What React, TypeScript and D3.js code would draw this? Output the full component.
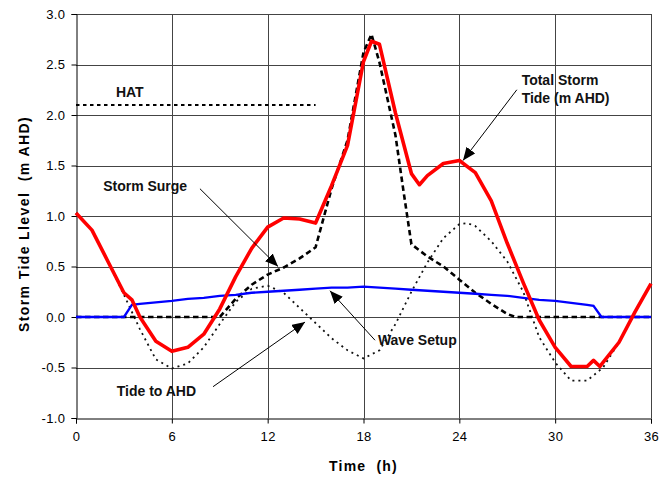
import React, { useEffect, useRef } from 'react'
import * as d3 from 'd3'

// Total storm tide (red)
const TOTAL_HOURS = [0, 1, 2, 3, 3.5, 4, 5, 6, 7, 8, 9, 10, 11, 12, 13, 14, 15, 16, 17, 18, 18.5, 19, 20, 21, 21.5, 22, 23, 24, 25, 26, 27, 28, 29, 30, 31, 32, 32.4, 32.8, 34, 35, 36]
const TOTAL_VALUES = [1.03, 0.86, 0.55, 0.24, 0.17, 0.0, -0.24, -0.34, -0.3, -0.17, 0.08, 0.4, 0.68, 0.89, 0.98, 0.97, 0.93, 1.3, 1.7, 2.53, 2.73, 2.7, 2.02, 1.42, 1.31, 1.4, 1.52, 1.55, 1.43, 1.15, 0.73, 0.34, -0.03, -0.3, -0.49, -0.49, -0.43, -0.49, -0.25, 0.05, 0.33]

// Storm surge (black dashed)
const SURGE_HOURS = [0, 9, 10, 11, 12, 13, 14, 15, 16, 17, 18, 18.5, 19, 20, 20.5, 21, 22, 23, 24, 25, 26, 27, 27.5, 36]
const SURGE_VALUES = [0, 0, 0.18, 0.32, 0.42, 0.49, 0.58, 0.69, 1.27, 1.75, 2.62, 2.8, 2.52, 1.8, 1.25, 0.72, 0.6, 0.5, 0.37, 0.24, 0.13, 0.03, 0, 0]

// Tide to AHD (black dotted)
const TIDE_HOURS = [0, 1, 2, 3, 4, 5, 6, 7, 8, 9, 10, 11, 12, 13, 14, 15, 16, 17, 18, 19, 20, 21, 22, 23, 24, 24.5, 25, 26, 27, 28, 29, 30, 31, 32, 33, 34, 35, 36]
const TIDE_VALUES = [1.03, 0.86, 0.55, 0.22, -0.12, -0.42, -0.51, -0.46, -0.3, -0.07, 0.15, 0.28, 0.31, 0.24, 0.09, -0.06, -0.21, -0.33, -0.41, -0.33, -0.07, 0.25, 0.54, 0.78, 0.92, 0.93, 0.9, 0.75, 0.55, 0.25, -0.2, -0.45, -0.63, -0.63, -0.5, -0.25, 0.05, 0.33]

// Wave setup (blue)
const SETUP_HOURS = [0, 3, 3.5, 4, 5, 6, 7, 8, 9, 10, 11, 12, 13, 14, 15, 16, 17, 18, 19, 20, 21, 22, 23, 24, 25, 26, 27, 28, 29, 30, 31, 32, 32.4, 32.9, 36]
const SETUP_VALUES = [0, 0, 0.12, 0.13, 0.145, 0.16, 0.18, 0.19, 0.21, 0.22, 0.24, 0.25, 0.26, 0.27, 0.28, 0.29, 0.29, 0.3, 0.29, 0.28, 0.27, 0.26, 0.25, 0.24, 0.23, 0.22, 0.21, 0.19, 0.17, 0.16, 0.14, 0.12, 0.11, 0, 0]

const HAT_LEVEL = 2.1
const HAT_RANGE = [0, 15]

const X_TICKS = [0, 6, 12, 18, 24, 30, 36]
const Y_TICKS = [-1, -0.5, 0, 0.5, 1, 1.5, 2, 2.5, 3]

// labels: [text, hour, level]
const LABELS: [string, number, number][] = [
  ['HAT', 2.5, 2.18],
  ['Storm Surge', 1.7, 1.25],
  ['Total Storm', 27.9, 2.3],
  ['Tide (m AHD)', 27.9, 2.12],
  ['Wave Setup', 18.9, -0.28],
  ['Tide to AHD', 2.55, -0.78],
]

// arrows: [fromHour, fromLevel, toHour, toLevel]
const ARROWS: [number, number, number, number][] = [
  [7.76, 1.27, 12.65, 0.5],
  [27.6, 2.25, 24.23, 1.55],
  [18.72, -0.23, 15.9, 0.26],
  [8.58, -0.69, 14.34, -0.05],
]

const FONT = '"Liberation Sans", Arial, Helvetica, sans-serif'

export default function App() {
  const svgRef = useRef<SVGSVGElement>(null)

  useEffect(() => {
    const width = 669
    const height = 477
    const margin = { top: 14, right: 18, bottom: 59, left: 76 }

    const svg = d3.select(svgRef.current)
    svg.selectAll('*').remove()
    svg.attr('width', width).attr('height', height).attr('viewBox', `0 0 ${width} ${height}`)

    const x = d3.scaleLinear().domain([0, 36]).range([margin.left, width - margin.right])
    const y = d3.scaleLinear().domain([-1, 3]).range([height - margin.bottom, margin.top])

    svg.append('defs').append('marker')
      .attr('id', 'arrowhead')
      .attr('markerUnits', 'userSpaceOnUse')
      .attr('markerWidth', 14)
      .attr('markerHeight', 12)
      .attr('refX', 13)
      .attr('refY', 5.5)
      .attr('orient', 'auto')
      .append('path')
      .attr('d', 'M0,0 L13,5.5 L0,11 Z')
      .attr('fill', '#000')

    // grid
    const grid = svg.append('g').attr('stroke', '#444').attr('stroke-width', 1).attr('shape-rendering', 'crispEdges')
    Y_TICKS.filter((v) => v > -1).forEach((v) => {
      grid.append('line')
        .attr('x1', x(0)).attr('x2', x(36))
        .attr('y1', Math.round(y(v)) + 0.5).attr('y2', Math.round(y(v)) + 0.5)
    })
    X_TICKS.filter((v) => v > 0).forEach((v) => {
      grid.append('line')
        .attr('x1', Math.round(x(v)) + 0.5).attr('x2', Math.round(x(v)) + 0.5)
        .attr('y1', y(-1)).attr('y2', y(3))
    })

    // axes
    const yAxis = svg.append('g')
      .attr('transform', `translate(${Math.round(x(0)) + 0.5},0)`)
      .call(d3.axisLeft(y).tickValues(Y_TICKS).tickFormat(d3.format('.1f')).tickSize(5).tickPadding(6))
    const xAxis = svg.append('g')
      .attr('transform', `translate(0,${Math.round(y(-1)) + 0.5})`)
      .call(d3.axisBottom(x).tickValues(X_TICKS).tickFormat(d3.format('d')).tickSize(5).tickPadding(8))
    ;[xAxis, yAxis].forEach((ax) => {
      ax.select('.domain').attr('stroke', '#000').attr('stroke-width', 1)
      ax.selectAll('line').attr('stroke', '#000')
      ax.selectAll('text')
        .attr('font-family', FONT)
        .attr('font-size', 13)
        .attr('letter-spacing', 0.4)
        .attr('fill', '#000')
    })
    yAxis.selectAll('text').text((d: any) => d3.format('.1f')(d).replace('−', '-'))

    // axis titles
    svg.append('text')
      .attr('x', x(18))
      .attr('y', 471)
      .attr('text-anchor', 'middle')
      .attr('font-family', FONT)
      .attr('font-size', 14)
      .attr('font-weight', 'bold')
      .attr('letter-spacing', 1.2)
      .style('white-space', 'pre')
      .text('Time  (h)')

    svg.append('text')
      .attr('transform', `translate(29,${224}) rotate(-90)`)
      .attr('text-anchor', 'middle')
      .attr('font-family', FONT)
      .attr('font-size', 14)
      .attr('font-weight', 'bold')
      .attr('letter-spacing', 1.4)
      .style('white-space', 'pre')
      .text('Storm Tide Llevel  (m AHD)')

    const line = d3.line<[number, number]>().x((d) => x(d[0])).y((d) => y(d[1]))
    const pts = (hs: number[], vs: number[]) => hs.map((h, i) => [h, vs[i]] as [number, number])

    // HAT
    svg.append('path')
      .attr('d', line([[HAT_RANGE[0], HAT_LEVEL], [HAT_RANGE[1], HAT_LEVEL]]))
      .attr('fill', 'none')
      .attr('stroke', '#000')
      .attr('stroke-width', 2)
      .attr('stroke-dasharray', '3.5,3.5')

    // tide
    svg.append('path')
      .attr('d', line(pts(TIDE_HOURS, TIDE_VALUES)))
      .attr('fill', 'none')
      .attr('stroke', '#111')
      .attr('stroke-width', 1.8)
      .attr('stroke-dasharray', '2,4')

    // surge
    svg.append('path')
      .attr('d', line(pts(SURGE_HOURS, SURGE_VALUES)))
      .attr('fill', 'none')
      .attr('stroke', '#000')
      .attr('stroke-width', 2.6)
      .attr('stroke-dasharray', '5.5,3.5')

    // wave setup
    svg.append('path')
      .attr('d', line(pts(SETUP_HOURS, SETUP_VALUES)))
      .attr('fill', 'none')
      .attr('stroke', '#0000ff')
      .attr('stroke-width', 2.3)

    // total
    svg.append('path')
      .attr('d', line(pts(TOTAL_HOURS, TOTAL_VALUES)))
      .attr('fill', 'none')
      .attr('stroke', '#ff0000')
      .attr('stroke-width', 3.6)
      .attr('stroke-linejoin', 'round')

    // annotations
    ARROWS.forEach(([h0, v0, h1, v1]) => {
      svg.append('line')
        .attr('x1', x(h0)).attr('y1', y(v0))
        .attr('x2', x(h1)).attr('y2', y(v1))
        .attr('stroke', '#000')
        .attr('stroke-width', 1)
        .attr('marker-end', 'url(#arrowhead)')
    })
    LABELS.forEach(([t, h, v]) => {
      svg.append('text')
        .attr('x', x(h))
        .attr('y', y(v))
        .attr('font-family', FONT)
        .attr('font-size', 14)
        .attr('font-weight', 'bold')
        .attr('fill', '#111')
        .text(t)
    })
  }, [])

  return (
    <div style={{ position: 'absolute', left: 0, top: 0, background: '#fff' }}>
      <svg ref={svgRef} style={{ display: 'block' }} />
    </div>
  )
}
